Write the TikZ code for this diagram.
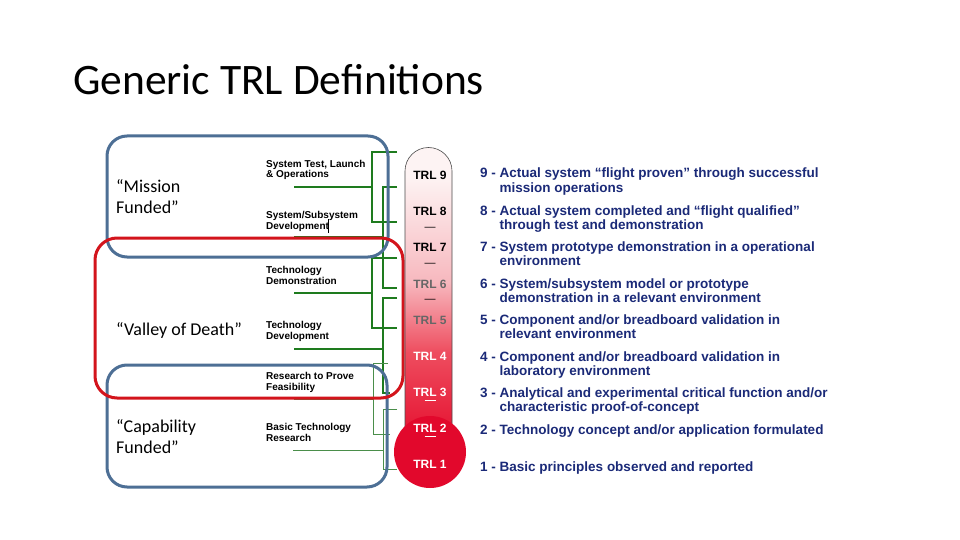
\documentclass[tikz,border=0pt]{standalone}
\usepackage{fontspec}
\setmainfont{Liberation Sans}
\newfontfamily\calib{Carlito}
\definecolor{navytxt}{HTML}{1B2A78}
\definecolor{boxblue}{HTML}{4D6F95}
\definecolor{boxred}{HTML}{D3141C}
\definecolor{grn}{HTML}{1E7B1E}
\definecolor{grnthin}{HTML}{4A8E4A}
\definecolor{ttop}{HTML}{FDF3F3}
\definecolor{tmid}{HTML}{F7B8BE}
\definecolor{tlow}{HTML}{EE4D5F}
\definecolor{tbot}{HTML}{E5102F}
\definecolor{ball}{HTML}{E2082C}
\definecolor{trlgray}{HTML}{666666}
\pgfdeclareverticalshading{tubeshade}{100bp}{color(0bp)=(tbot); color(25bp)=(tbot); color(40bp)=(tlow); color(52bp)=(tmid); color(70bp)=(ttop); color(100bp)=(ttop)}
\tikzset{
  bluebox/.style={draw=boxblue, line width=3pt, rounded corners=20pt},
  redbox/.style={draw=boxred, line width=3pt, rounded corners=22pt},
  gthick/.style={draw=grn, line width=2.2pt},
  gmed/.style={draw=grn, line width=1.2pt},
  gthin/.style={draw=grnthin, line width=0.9pt},
  stage/.style={anchor=base west, inner sep=0pt, align=left, font=\bfseries\fontsize{10}{10.5}\selectfont},
  fund/.style={anchor=base west, inner sep=0pt, align=left, font=\calib\fontsize{18}{21}\selectfont},
  trl/.style={anchor=base, inner sep=0pt, font=\bfseries\fontsize{12}{13}\selectfont},
  dashmark/.style={anchor=base, inner sep=0pt, font=\fontsize{11}{13}\selectfont},
  uline/.style={draw=white, line width=1.1pt},
  defn/.style={anchor=base west, inner sep=0pt, text=navytxt, font=\bfseries\fontsize{13.5}{14}\selectfont},
}
\newcommand\trldef[3]{\begin{tabular}[t]{@{}l@{}l@{}}\mbox{#1 - } & #2\\ & #3\end{tabular}}
\begin{document}
\begin{tikzpicture}[x=1pt,y=-1pt]
\useasboundingbox[fill=white] (0,0) rectangle (960,540);
% title
\node[anchor=base west, inner sep=0pt, font=\calib\fontsize{43.5}{48}\selectfont] (title) at (73,95) {Generic TRL Definitions};

% green connectors
\coordinate (b1t) at (372,152); \coordinate (b1b) at (372,222);
\coordinate (b1tt) at (397,152); \coordinate (b1bt) at (397,222);
\coordinate (b1l) at (294,187); \coordinate (b1m) at (372,187);
\draw[gthick] (b1tt) -- (b1t) -- (b1b) -- (b1bt);
\draw[gthick] (b1l) -- (b1m);

\coordinate (b2t) at (383,187); \coordinate (b2b) at (383,288);
\coordinate (b2tt) at (397,187); \coordinate (b2bt) at (397,288);
\coordinate (b2l) at (294,237); \coordinate (b2m) at (383,237);
\draw[gthick] (b2tt) -- (b2t) -- (b2b) -- (b2bt);
\draw[gthick] (b2l) -- (b2m);

\coordinate (b3t) at (372,258); \coordinate (b3b) at (372,328);
\coordinate (b3tt) at (397,258); \coordinate (b3bt) at (397,328);
\coordinate (b3l) at (294,293); \coordinate (b3m) at (372,293);
\draw[gthick] (b3tt) -- (b3t) -- (b3b) -- (b3bt);
\draw[gmed] (b3l) -- (b3m);

\coordinate (b4t) at (383,298); \coordinate (b4b) at (383,393);
\coordinate (b4tt) at (397,298); \coordinate (b4bt) at (390,393);
\coordinate (b4l) at (294,349); \coordinate (b4m) at (383,349);
\draw[gthick] (b4tt) -- (b4t) -- (b4b) -- (b4bt);
\draw[gthick] (b4l) -- (b4m);

\coordinate (b5t) at (373,363); \coordinate (b5b) at (373,434);
\coordinate (b5tt) at (388,363); \coordinate (b5bt) at (390,434);
\coordinate (b5l) at (294,399); \coordinate (b5m) at (373,399);
\draw[gthin] (b5tt) -- (b5t) -- (b5b) -- (b5bt);
\draw[gthin] (b5l) -- (b5m);

\coordinate (b6t) at (383,409); \coordinate (b6b) at (383,469);
\coordinate (b6tt) at (397,409); \coordinate (b6bt) at (397,469);
\coordinate (b6l) at (293,450); \coordinate (b6m) at (383,450);
\draw[gthin] (b6tt) -- (b6t) -- (b6b) -- (b6bt);
\draw[gthin] (b6l) -- (b6m);

% funding boxes
\draw[bluebox] (107,136) rectangle (388,257);
\draw[bluebox] (107,365) rectangle (387,487);
\draw[redbox] (95,238) rectangle (403,398);

% funding labels (base = last line)
\node[fund] (mission) at (116,213) {“Mission\\Funded”};
\node[fund] (valley) at (116,335) {“Valley of Death”};
\node[fund] (capab) at (116,453) {“Capability\\Funded”};

% stage labels (base = last line)
\node[stage] (s1) at (266,178) {System Test, Launch\\\& Operations};
\node[stage] (s2) at (266,229) {System/Subsystem\\Development};
\node[stage] (s3) at (266,284) {Technology\\Demonstration};
\node[stage] (s4) at (266,339) {Technology\\Development};
\node[stage] (s5) at (266,390) {Research to Prove\\Feasibility};
\node[stage] (s6) at (266,441) {Basic Technology\\Research};
\draw[black, line width=0.6pt] (328,219) -- (328,233);

% thermometer
\path[shading=tubeshade] (405,440) -- (405,171) arc (180:360:23.5) -- (452,440) -- cycle;
\draw[black!70, line width=0.6pt] (405,430) -- (405,171) arc (180:360:23.5) -- (452,430);
\fill[ball] (430,452) circle (36);
\node[trl] (t9) at (430,179) {TRL 9};
\node[trl] (t8) at (430,215.5) {TRL 8};
\node[dashmark] (d8) at (430,230) {—};
\node[trl] (t7) at (430,251.5) {TRL 7};
\node[dashmark] (d7) at (430,266) {—};
\node[trl, text=trlgray] (t6) at (430,288) {TRL 6};
\node[dashmark] (d6) at (430,302) {—};
\node[trl, text=trlgray] (t5) at (430,324) {TRL 5};
\node[trl, text=white] (t4) at (430,360) {TRL 4};
\node[trl, text=white] (t3) at (430,396) {TRL 3};
\draw[uline] ([xshift=-5.5pt,yshift=-4pt]t3.south) -- ([xshift=5.5pt,yshift=-4pt]t3.south);
\node[trl, text=white] (t2) at (430,432) {TRL 2};
\draw[uline] ([xshift=-5.5pt,yshift=-4pt]t2.south) -- ([xshift=5.5pt,yshift=-4pt]t2.south);
\node[trl, text=white] (t1) at (430,468) {TRL 1};

% definitions (base = first line)
\node[defn] (r9) at (480,178) {\trldef{9}{Actual system “flight proven” through successful}{mission operations}};
\node[defn] (r8) at (480,215) {\trldef{8}{Actual system completed and “flight qualified”}{through test and demonstration}};
\node[defn] (r7) at (480,251) {\trldef{7}{System prototype demonstration in a operational}{environment}};
\node[defn] (r6) at (480,288) {\trldef{6}{System/subsystem model or prototype}{demonstration in a relevant environment}};
\node[defn] (r5) at (480,324) {\trldef{5}{Component and/or breadboard validation in}{relevant environment}};
\node[defn] (r4) at (480,361) {\trldef{4}{Component and/or breadboard validation in}{laboratory environment}};
\node[defn] (r3) at (480,397) {\trldef{3}{Analytical and experimental critical function and/or}{characteristic proof-of-concept}};
\node[defn] (r2) at (480,434) {2 - Technology concept and/or application formulated};
\node[defn] (r1) at (480,471) {1 - Basic principles observed and reported};
\end{tikzpicture}
\end{document}
